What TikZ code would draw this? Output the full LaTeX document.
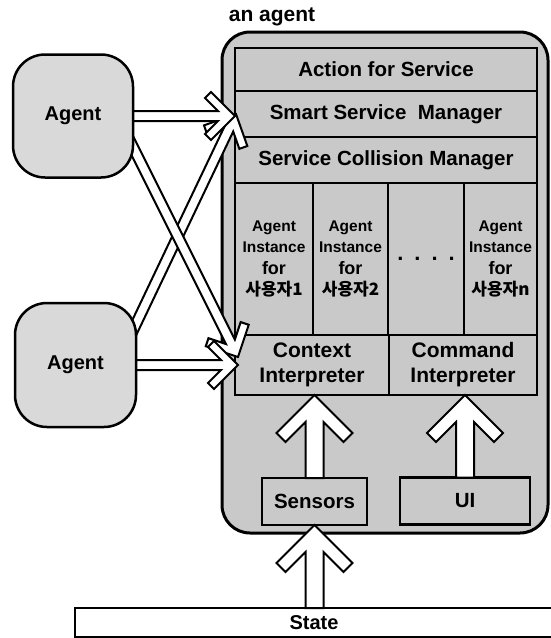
\documentclass[tikz,border=0pt]{standalone}
\usepackage{fontspec}
\setmainfont{Liberation Sans}
\newfontfamily\kofont{Noto Sans CJK KR}
\usetikzlibrary{positioning}

\definecolor{shade}{gray}{0.79}
\definecolor{agentshade}{gray}{0.85}

\pgfdeclarelayer{front}
\pgfsetlayers{main,front}

% hollow arrow: from, to, half width, wing span, wing offset
\newcommand{\hollowarrow}[5]{%
  \path (#1); \pgfgetlastxy{\arrAx}{\arrAy}%
  \path (#2); \pgfgetlastxy{\arrBx}{\arrBy}%
  \pgfmathsetmacro{\arrAng}{atan2(\arrBy-\arrAy,\arrBx-\arrAx)}%
  \pgfmathsetmacro{\arrLen}{veclen(\arrBx-\arrAx,\arrBy-\arrAy)}%
  \pgfmathsetmacro{\arrJx}{\arrLen-2*#5-#3}%
  \pgfmathsetmacro{\arrIx}{\arrLen-#4-#5}%
  \pgfmathsetmacro{\arrIy}{#4-#5}%
  \pgfmathsetmacro{\arrOx}{\arrLen-#4}%
  \begin{scope}[shift={(\arrAx,\arrAy)},rotate=\arrAng,x=1pt,y=1pt]
    \draw[hollow] (0,#3) -- (\arrJx,#3) -- (\arrIx,\arrIy) -- (\arrOx,#4) -- (\arrLen,0)
      -- (\arrOx,-#4) -- (\arrIx,-\arrIy) -- (\arrJx,-#3) -- (0,-#3) -- cycle;
  \end{scope}}

\begin{document}
\begin{tikzpicture}[x=1pt,y=-1pt,inner sep=0pt,outer sep=0pt,line width=2.5pt,
band/.style={draw,rectangle,fill=shade,minimum width=302pt,anchor=north west,font=\bfseries\fontsize{20.5}{24}\selectfont},
cell/.style={draw,rectangle,fill=shade,minimum height=152pt,anchor=north west,align=center,font=\bfseries\fontsize{15.5}{21.5}\selectfont},
interp/.style={draw,rectangle,fill=shade,minimum height=60pt,anchor=north west,align=center,font=\bfseries\fontsize{21}{25}\selectfont},
iobox/.style={draw,rectangle,fill=shade,minimum height=47pt,font=\bfseries\fontsize{20.5}{24}\selectfont},
agentbox/.style={draw,rectangle,line width=2.5pt,rounded corners=32pt,fill=agentshade,minimum width=120pt,minimum height=123pt,font=\bfseries\fontsize{20}{24}\selectfont},
hollow/.style={draw,fill=white,line width=2pt,line join=miter}]

\useasboundingbox (0,0) rectangle (551,638);

\draw (385,282.5) node[draw,rectangle,rounded corners=28pt,fill=shade,line width=3pt,minimum width=326pt,minimum height=501pt] (outer) {};
\draw (outer.north west) ++(50,-15) node[font=\bfseries\fontsize{21}{24}\selectfont] (title) {an agent};

\draw (235,48) node[band,minimum height=43pt] (action) {Action for Service};
\draw (action.south west) node[band,minimum height=46pt] (smart) {Smart Service~ Manager};
\draw (smart.south west) node[band,minimum height=46pt] (collision) {Service Collision Manager};

\draw (collision.south west) node[cell,minimum width=78pt] (cell1) {Agent\\Instance\\{\fontsize{18}{21.5}\selectfont for}\\{\kofont\fontsize{17}{21.5}\selectfont 사용자1}};
\draw (cell1.north east) node[cell,minimum width=75pt] (cell2) {Agent\\Instance\\{\fontsize{18}{21.5}\selectfont for}\\{\kofont\fontsize{17}{21.5}\selectfont 사용자2}};
\draw (cell2.north east) node[cell,minimum width=76pt,font=\bfseries\fontsize{22}{24}\selectfont] (cell3) {.\,\,\,.\,\,\,.\,\,\,.};
\draw (cell3.north east) node[cell,minimum width=73pt] (celln) {Agent\\Instance\\{\fontsize{18}{21.5}\selectfont for}\\{\kofont\fontsize{17}{21.5}\selectfont 사용자n}};

\draw (cell1.south west) node[interp,minimum width=154pt] (ctx) {Context\\Interpreter};
\draw (ctx.north east) node[interp,minimum width=148pt] (cmd) {Command\\Interpreter};

\draw (314.5,501.5) node[iobox,minimum width=105pt] (sensors) {Sensors};
\draw (465,501) node[iobox,minimum width=130pt] (ui) {UI};
\draw (75,608) node[draw,rectangle,anchor=north west,fill=white,minimum width=478pt,minimum height=29pt,font=\bfseries\fontsize{20}{24}\selectfont] (state) {State};

% inputs
\hollowarrow{sensors.north}{sensors.north |- ctx.south}{9}{38}{9}
\hollowarrow{ui.north}{ui.north |- cmd.south}{9}{38}{9}
\hollowarrow{sensors.south |- state.north}{sensors.south}{9}{38}{9}

% other agents
\begin{pgfonlayer}{front}
\draw (73,116) node[agentbox] (agentA) {Agent};
\draw (75.5,365) node[agentbox,minimum width=121pt,minimum height=124pt] (agentB) {Agent};
\end{pgfonlayer}
\hollowarrow{[xshift=-10pt,yshift=20pt]agentB.east}{[xshift=1pt]smart.west}{5}{24}{6}
\hollowarrow{[xshift=-10pt,yshift=-11pt]agentA.east}{[xshift=3pt,yshift=8pt]ctx.west}{5}{24}{6}
\hollowarrow{[xshift=-10pt]agentA.east}{agentA.east -| smart.west}{5}{24}{6}
\hollowarrow{[xshift=-10pt]agentB.east}{[xshift=3pt]agentB.east -| ctx.west}{5}{24}{6}

\end{tikzpicture}
\end{document}
